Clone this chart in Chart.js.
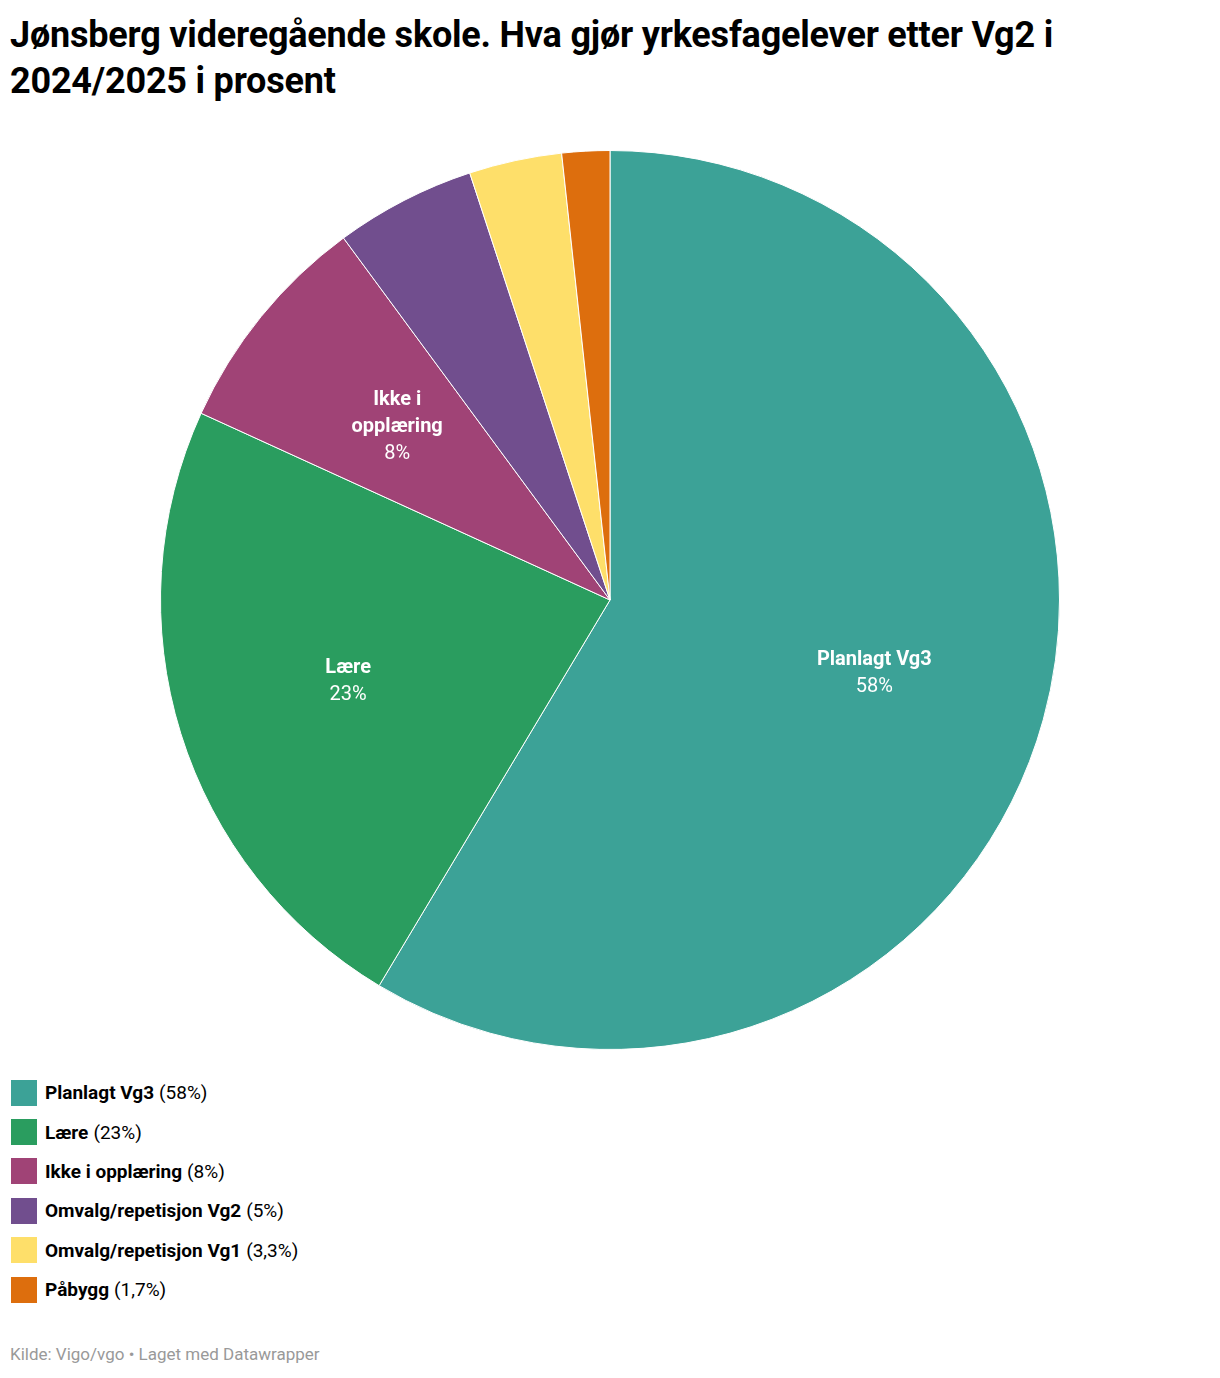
<!DOCTYPE html>
<html><head><meta charset="utf-8">
<script src="https://cdn.jsdelivr.net/npm/chart.js@4"></script>
<style>
body{margin:0;width:1220px;height:1378px;background:#fff;font-family:Roboto,sans-serif;position:relative;overflow:hidden}
h1{position:absolute;left:10px;top:12px;margin:0;font-size:36px;line-height:46px;font-weight:700;color:#000;width:1200px;letter-spacing:-0.2px}
#wrap{position:absolute;left:0;top:150px;width:1220px;height:900px}
#legend{position:absolute;left:11px;top:1073px}
.li{display:flex;align-items:center;height:39.4px;font-size:19px;color:#000}
.sw{width:26px;height:26px;margin-right:8px}
.li b{font-weight:700;margin-right:5px}
#foot{position:absolute;left:10px;top:1344px;font-size:17px;color:#999}
</style></head><body>
<h1>Jønsberg videregående skole. Hva gjør yrkesfagelever etter Vg2 i 2024/2025 i prosent</h1>
<div id="wrap"><canvas id="c"></canvas></div>
<div id="legend"></div>
<div id="foot">Kilde: Vigo/vgo • Laget med Datawrapper</div>
<script>
const categories=["Planlagt Vg3","Lære","Ikke i opplæring","Omvalg/repetisjon Vg2","Omvalg/repetisjon Vg1","Påbygg"];
const values=[58,23,8,5,3.3,1.7];
const valueLabels=["58%","23%","8%","5%","3,3%","1,7%"];
const colors=["#3ca297","#2a9d5f","#a04376","#714e8e","#fedf6a","#dd6e0d"];
const sliceLabelLines=[["Planlagt Vg3"],["Lære"],["Ikke i","opplæring"],null,null,null];
const lg=document.getElementById('legend');
categories.forEach((c,i)=>{lg.innerHTML+=`<div class="li"><div class="sw" style="background:${colors[i]}"></div><b>${c}</b>(${valueLabels[i]})</div>`;});
const labelPlugin={id:'lbl',afterDatasetsDraw(ch){const ctx=ch.ctx;const meta=ch.getDatasetMeta(0);
meta.data.forEach((a,i)=>{const L=sliceLabelLines[i];if(!L)return;const ang=(a.startAngle+a.endAngle)/2;const r=a.outerRadius*0.61;
const x=a.x+Math.cos(ang)*r,y=a.y+Math.sin(ang)*r;ctx.save();ctx.fillStyle='#fff';ctx.textAlign='center';ctx.textBaseline='middle';
const lines=L.length+1;const lh=27;let y0=y-(lines-1)*lh/2;
ctx.font='700 20px Roboto';L.forEach((t,k)=>ctx.fillText(t,x,y0+k*lh));
ctx.font='400 20px Roboto';ctx.fillText(valueLabels[i],x,y0+L.length*lh);ctx.restore();});}};
new Chart(document.getElementById('c'),{type:'pie',data:{labels:categories,datasets:[{data:values,backgroundColor:colors,borderColor:'#fff',borderWidth:1}]},
options:{responsive:true,maintainAspectRatio:false,animation:false,layout:{padding:0},plugins:{legend:{display:false},tooltip:{enabled:false}}},plugins:[labelPlugin]});
</script></body></html>
